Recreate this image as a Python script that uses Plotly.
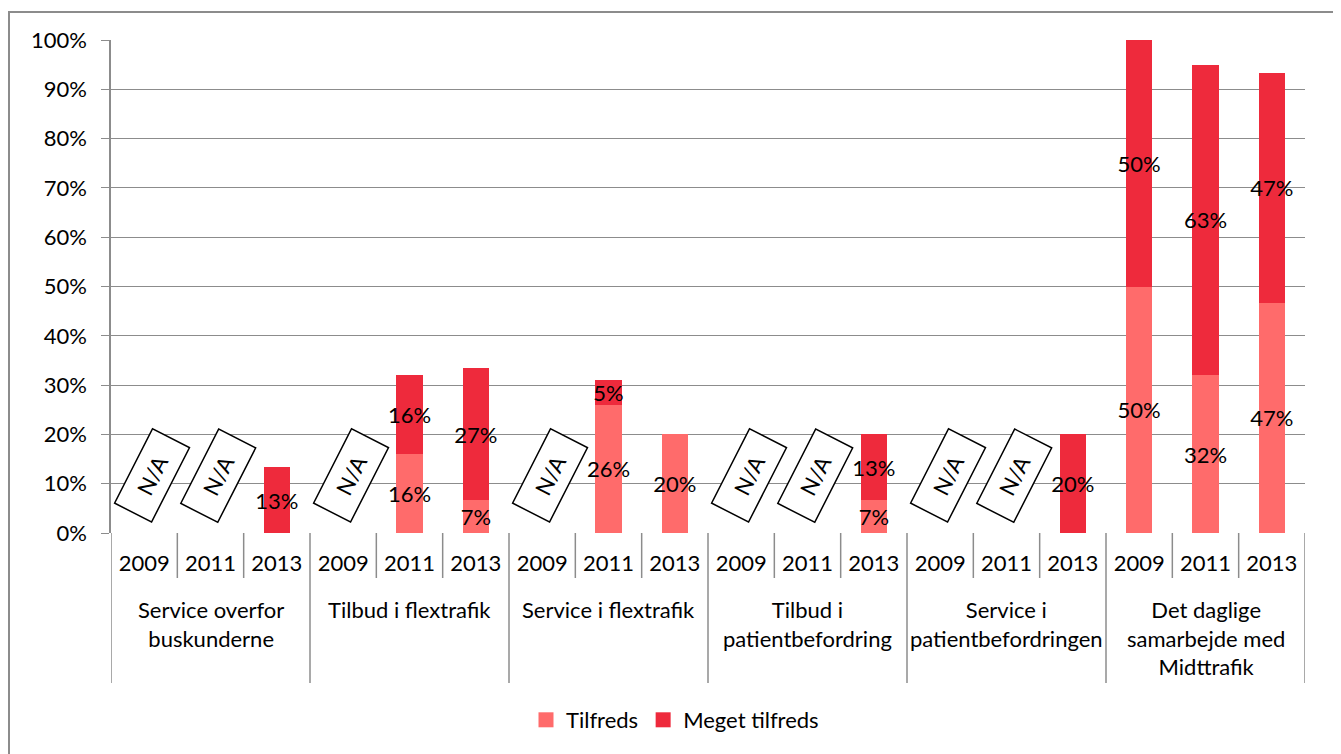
import plotly.graph_objects as go

# data (percent); None = N/A
groups = ["Service overfor<br>buskunderne", "Tilbud i flextrafik", "Service i flextrafik",
          "Tilbud i<br>patientbefordring", "Service i<br>patientbefordringen",
          "Det daglige<br>samarbejde med<br>Midttrafik"]
years = ["2009", "2011", "2013"]

tilfreds = [None, None, 0, None, 16, 6.7, None, 26, 20,
            None, None, 6.7, None, None, 0, 50, 32, 46.7]
meget = [None, None, 13.3, None, 16, 26.7, None, 5, 0,
         None, None, 13.3, None, None, 20, 50, 63, 46.7]
y_ticks = list(range(0, 101, 10))

FONT = "Lato"
FS = 22
C_TIL = "#FF6B6B"
C_MEG = "#EE2A3C"
GRID = "#8c8c8c"

n = len(groups) * len(years)
xs = list(range(n))
ticktext = years * len(groups)


def labels(vals):
    return ["" if not v else f"{round(v)}%" for v in vals]


fig = go.Figure()
for name, vals, col in [("Tilfreds", tilfreds, C_TIL), ("Meget tilfreds", meget, C_MEG)]:
    fig.add_trace(go.Bar(
        x=xs, y=[v if v is not None else 0 for v in vals],
        name=name, marker=dict(color=col, line=dict(width=0)),
        text=labels(vals), textposition="inside", insidetextanchor="middle",
        textangle=0, constraintext="none",
        textfont=dict(family=FONT, size=FS, color="black"),
        hoverinfo="skip", showlegend=False,
    ))
# legend entries with bigger square swatches
for name, col in [("Tilfreds", C_TIL), ("Meget tilfreds", C_MEG)]:
    fig.add_trace(go.Scatter(x=[None], y=[None], mode="markers", name=name,
                             marker=dict(symbol="square", size=15, color=col)))

# page has an 8px body margin; plot area in figure px: x 103..1297, y 32..525
PH = 493.0
PW = 1194.0
shapes = []
for i in range(n + 1):
    depth = 150 if i % 3 == 0 else 45
    shapes.append(dict(type="line", xref="x", yref="paper",
                       x0=i - 0.5, x1=i - 0.5, y0=0, y1=-depth / PH,
                       line=dict(color=GRID, width=1.5)))
# outer frame
shapes.append(dict(type="rect", xref="paper", yref="paper",
                   x0=-102 / PW, x1=1223 / PW, y0=521 / PH, y1=-235 / PH,
                   line=dict(color=GRID, width=2), fillcolor="rgba(0,0,0,0)", layer="below"))

annotations = []
for g, label in enumerate(groups):
    annotations.append(dict(x=g * 3 + 1, y=0, xref="x", yref="paper", yshift=-61,
                            text=label, showarrow=False, yanchor="top",
                            font=dict(family=FONT, size=FS, color="black")))
# N/A boxes
for i in range(n):
    if tilfreds[i] is None and meget[i] is None:
        annotations.append(dict(x=i, y=11.6, xref="x", yref="y", xshift=8,
                                text="N/A", showarrow=False, textangle=-63,
                                width=80, height=38, borderpad=1,
                                bordercolor="black", borderwidth=1.5, bgcolor="white",
                                font=dict(family=FONT, size=FS, color="black")))

fig.update_layout(
    width=1333, height=746,
    margin=dict(l=103, r=36, t=32, b=221),
    paper_bgcolor="white", plot_bgcolor="white",
    barmode="stack", bargap=0.6,
    font=dict(family=FONT, size=FS, color="black"),
    showlegend=True,
    legend=dict(orientation="h", x=564 / PW, xanchor="center", y=-187 / PH, yanchor="middle",
                traceorder="normal", itemsizing="trace",
                font=dict(family=FONT, size=FS, color="black"), itemwidth=30),
    xaxis=dict(range=[-0.5, n - 0.5], tickvals=xs, ticktext=ticktext,
               showgrid=False, zeroline=False, showline=False, ticks="",
               ticklabelstandoff=15, tickfont=dict(family=FONT, size=FS)),
    yaxis=dict(range=[0, 100], tickvals=y_ticks, ticktext=[f"{v}%" for v in y_ticks],
               showgrid=True, gridcolor=GRID, gridwidth=1.3, zeroline=False,
               showline=True, linecolor=GRID, linewidth=1.5,
               ticks="outside", ticklen=8, tickcolor=GRID, tickwidth=1.3,
               ticklabelstandoff=10, tickfont=dict(family=FONT, size=FS)),
    shapes=shapes, annotations=annotations,
)

fig.write_html("out.html")
